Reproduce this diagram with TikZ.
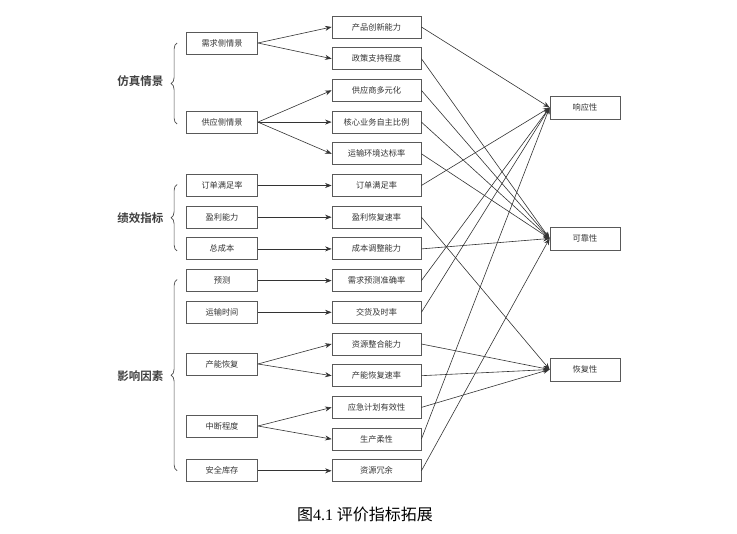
\documentclass[tikz,border=0pt]{standalone}
\usepackage{fontspec}
\setmainfont{Noto Sans CJK SC}[BoldFont={Noto Sans CJK SC Bold}]
\newfontfamily\numfont{Liberation Serif}
\usetikzlibrary{arrows.meta,decorations.pathreplacing}

\begin{document}
\begin{tikzpicture}[x=1pt,y=-1pt,
    box/.style={draw=black!65,line width=0.8pt,minimum height=22pt,inner sep=0pt,
      font=\fontsize{8.2}{9}\selectfont,text=black!80},
    src/.style={box,minimum width=71pt},
    mid/.style={box,minimum width=89pt},
    res/.style={box,minimum width=70pt,minimum height=23pt},
    grp/.style={anchor=east,font=\fontsize{11.5}{12}\selectfont\bfseries,text=black!75},
    link/.style={draw=black!80,line width=0.6pt,-{Stealth[length=6.5pt,width=5pt]}},
    brc/.style={draw=black!70,line width=0.7pt,decorate,decoration={brace,amplitude=6pt}},
    node distance=31.7pt]
  \useasboundingbox (0,0) rectangle (737,534);

  % middle column
  \node[mid] (m1) at (376.5,27) {产品创新能力};
  \node[mid,below of=m1] (m2) {政策支持程度};
  \node[mid,below of=m2] (m3) {供应商多元化};
  \node[mid,below of=m3] (m4) {核心业务自主比例};
  \node[mid,below of=m4] (m5) {运输环境达标率};
  \node[mid,below of=m5] (m6) {订单满足率};
  \node[mid,below of=m6] (m7) {盈利恢复速率};
  \node[mid,below of=m7] (m8) {成本调整能力};
  \node[mid,below of=m8] (m9) {需求预测准确率};
  \node[mid,below of=m9] (m10) {交货及时率};
  \node[mid,below of=m10] (m11) {资源整合能力};
  \node[mid,below of=m11] (m12) {产能恢复速率};
  \node[mid,below of=m12] (m13) {应急计划有效性};
  \node[mid,below of=m13] (m14) {生产柔性};
  \node[mid,below of=m14] (m15) {资源冗余};

  % left column
  \node[src] (s1) at (222,43) {需求侧情景};
  \node[src] (s2) at (m4 -| 222,0) {供应侧情景};
  \node[src] (s3) at (m6 -| 222,0) {订单满足率};
  \node[src] (s4) at (m7 -| 222,0) {盈利能力};
  \node[src] (s5) at (m8 -| 222,0) {总成本};
  \node[src] (s6) at (m9 -| 222,0) {预测};
  \node[src] (s7) at (m10 -| 222,0) {运输时间};
  \node[src] (s8) at (222,364) {产能恢复};
  \node[src] (s9) at (222,426) {中断程度};
  \node[src] (s10) at (m15 -| 222,0) {安全库存};

  % right column
  \node[res] (r1) at (585,107.5) {响应性};
  \node[res] (r2) at (585,238.5) {可靠性};
  \node[res] (r3) at (585,369.5) {恢复性};

  % groups
  \node[grp] (g1) at (167,81) {仿真情景};
  \node[grp] (g2) at (167,218) {绩效指标};
  \node[grp] (g3) at (167,376) {影响因素};
  \draw[brc] ([xshift=-9pt,yshift=-2pt]s2.west) -- ([xshift=-9pt]s1.west);
  \draw[brc] ([xshift=-9pt,yshift=-2pt]s5.west) -- ([xshift=-9pt,yshift=1pt]s3.west);
  \draw[brc] ([xshift=-9pt]s10.west) -- ([xshift=-9pt,yshift=1pt]s6.west);

  % left to middle
  \draw[link] (s1.east) -- (m1.west);
  \draw[link] (s1.east) -- (m2.west);
  \draw[link] (s2.east) -- (m3.west);
  \draw[link] (s2.east) -- (m4.west);
  \draw[link] (s2.east) -- (m5.west);
  \draw[link] (s3.east) -- (m6.west);
  \draw[link] (s4.east) -- (m7.west);
  \draw[link] (s5.east) -- (m8.west);
  \draw[link] (s6.east) -- (m9.west);
  \draw[link] (s7.east) -- (m10.west);
  \draw[link] (s8.east) -- (m11.west);
  \draw[link] (s8.east) -- (m12.west);
  \draw[link] (s9.east) -- (m13.west);
  \draw[link] (s9.east) -- (m14.west);
  \draw[link] (s10.east) -- (m15.west);

  % middle to right
  \foreach \i in {1,6,9,10,14}
    \draw[link] (m\i.east) -- (r1.west);
  \foreach \i in {2,3,4,5,8,15}
    \draw[link] (m\i.east) -- (r2.west);
  \foreach \i in {7,11,12,13}
    \draw[link] (m\i.east) -- (r3.west);

  \node (cap) at (365,514) {\fontsize{16}{18}\selectfont 图{\numfont 4.1} 评价指标拓展};
\end{tikzpicture}
\end{document}
